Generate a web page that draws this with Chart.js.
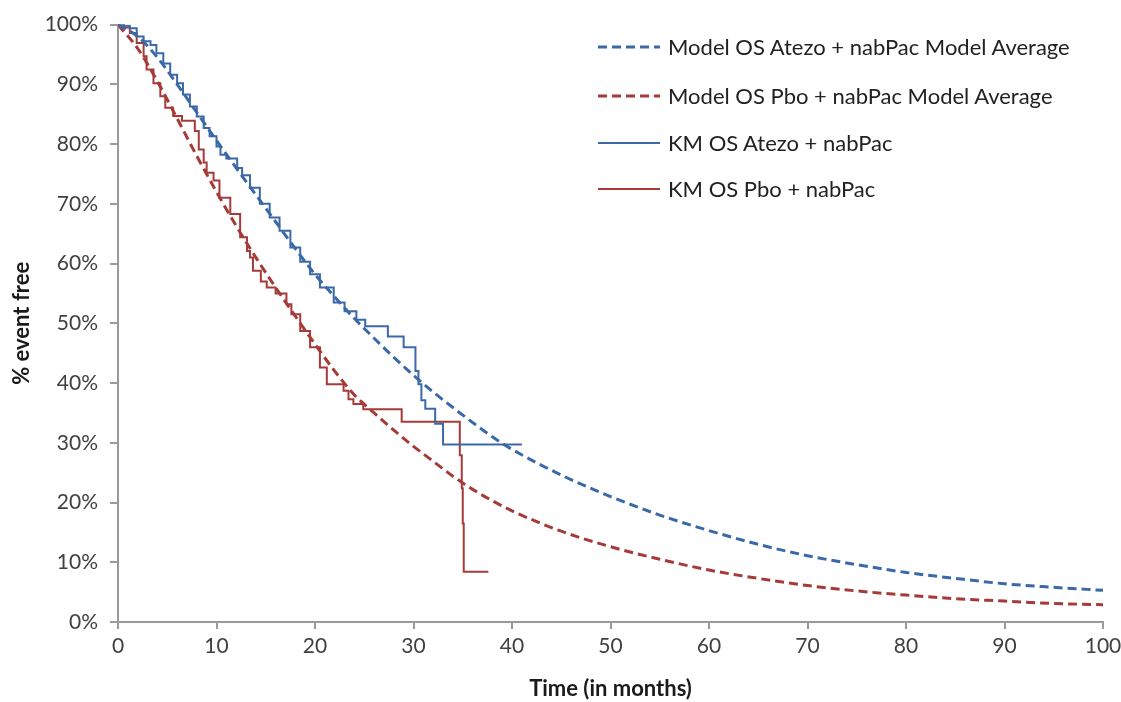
<!DOCTYPE html>
<html>
<head>
<meta charset="utf-8">
<script src="https://cdn.jsdelivr.net/npm/chart.js@4.4.1/dist/chart.umd.min.js"></script>
<style>
    html, body { margin: 0; padding: 0; background: #fff; }
    #wrap { position: relative; width: 1121px; height: 702px; }
    #legend { position: absolute; left: 598px; top: 32px; font-family: Lato, "Liberation Sans", sans-serif; font-size: 22px; color: #222; }
    .item { position: absolute; left: 0; height: 30px; white-space: nowrap; }
    .item svg { position: absolute; left: 0; top: 12px; }
    .item span { position: absolute; left: 70px; top: 1px; }
</style>
</head>
<body>
<div id="wrap">
    <canvas id="km" width="1121" height="702"></canvas>
    <div id="legend"></div>
</div>
<script>
// model curves (months, % event free)
const modelTime = [0, 2, 4, 6, 8, 10, 12, 14, 16, 18, 20, 22, 24, 26, 28, 30, 32, 34, 36, 38, 40, 45, 50, 55, 60, 65, 70, 75, 80, 85, 90, 95, 100];
const modelAtezo = [100, 98, 94.5, 90, 85.3, 80.6, 76, 71.5, 67, 62.5, 58.2, 54.4, 50.8, 47.5, 44.3, 41.3, 38.5, 35.9, 33.4, 31, 28.9, 24.6, 21, 17.9, 15.3, 13, 11.1, 9.6, 8.3, 7.3, 6.4, 5.8, 5.3];
const modelPbo = [100, 96, 90.5, 84.3, 78, 72, 66.3, 61, 56, 51.2, 46.5, 42, 38, 35, 32.1, 29.4, 26.9, 24.4, 22.2, 20.3, 18.6, 15.2, 12.6, 10.5, 8.7, 7.3, 6.1, 5.2, 4.5, 3.9, 3.5, 3.1, 2.9];

// Kaplan-Meier step points
const kmAtezoTime = [0, 0.6, 1.2, 1.9, 2.6, 3.3, 3.9, 4.6, 5.3, 6.0, 6.6, 7.3, 8.0, 8.7, 9.3, 10.0, 10.4, 11.0, 12.1, 12.6, 13.4, 14.4, 15.4, 16.4, 17.5, 18.5, 19.5, 20.5, 21.9, 23.0, 24.2, 25.1, 27.4, 29.0, 30.2, 30.5, 30.8, 31.2, 32.2, 33.0, 41.0];
const kmAtezoPct = [100, 99.8, 99.4, 98, 97.2, 96.6, 95.2, 93.5, 91.6, 90.2, 88.3, 86.3, 84.6, 82.7, 81.3, 79.6, 78.2, 77.6, 76, 74.8, 72.7, 70, 67.7, 65.5, 62.7, 60.3, 58.2, 56, 53.5, 52, 50.6, 49.5, 47.8, 46, 42, 39.8, 37.1, 35.7, 33.2, 29.7, 29.7];
const kmPboTime = [0, 0.6, 1.2, 1.9, 2.6, 2.9, 3.6, 4.3, 4.8, 5.6, 6.5, 7.8, 8.2, 8.7, 9.0, 9.7, 10.3, 11.4, 12.4, 13.1, 13.4, 13.7, 14.5, 15.1, 16.0, 17.1, 17.6, 18.5, 19.5, 20.5, 21.2, 22.9, 23.4, 23.9, 24.9, 28.8, 34.7, 34.9, 35.0, 35.1, 37.6];
const kmPboPct = [100, 99.5, 98.6, 96.9, 94.7, 92.5, 90.2, 88, 86.1, 84.7, 83.9, 82.2, 79.1, 76.9, 75.2, 73.9, 71, 68.3, 64.4, 62.1, 61, 58.8, 57, 56, 55, 53.2, 51.5, 48.7, 46, 42.6, 39.8, 38.7, 37.3, 36.5, 35.6, 33.5, 27.9, 22.4, 16.5, 8.4, 8.4];

const xTicks = [0, 10, 20, 30, 40, 50, 60, 70, 80, 90, 100];

const blue = '#3b69a7';
const red = '#a53b39';
const axisGray = '#9a9a9a';

function pairs(xs, ys) {
    return xs.map((x, i) => ({ x: x, y: ys[i] }));
}

const datasets = [
    { label: 'Model OS Atezo + nabPac Model Average', data: pairs(modelTime, modelAtezo), borderColor: blue, borderWidth: 3, borderDash: [9, 5], cubicInterpolationMode: 'monotone', dashed: true },
    { label: 'Model OS Pbo + nabPac Model Average', data: pairs(modelTime, modelPbo), borderColor: red, borderWidth: 3, borderDash: [9, 5], cubicInterpolationMode: 'monotone', dashed: true },
    { label: 'KM OS Atezo + nabPac', data: pairs(kmAtezoTime, kmAtezoPct), borderColor: blue, borderWidth: 2, stepped: true },
    { label: 'KM OS Pbo + nabPac', data: pairs(kmPboTime, kmPboPct), borderColor: red, borderWidth: 2, stepped: true }
];

const ctx = document.getElementById('km').getContext('2d');
const chart = new Chart(ctx, {
    type: 'line',
    data: { datasets: datasets },
    options: {
        responsive: false,
        animation: false,
        events: [],
        elements: { point: { radius: 0 } },
        layout: { padding: { top: 23, right: 18, bottom: 0, left: 0 } },
        plugins: { legend: { display: false }, tooltip: { enabled: false } },
        scales: {
            x: {
                type: 'linear',
                min: 0,
                max: 100,
                afterBuildTicks: (scale) => { scale.ticks = xTicks.map(v => ({ value: v })); },
                afterFit: (scale) => { scale.height = 80; scale.paddingRight = 0; scale.paddingLeft = 0; },
                grid: { drawOnChartArea: false, drawTicks: true, tickLength: 7, color: axisGray, lineWidth: 2 },
                border: { color: axisGray, width: 2 },
                ticks: { color: '#404040', font: { family: 'Lato', size: 21 }, padding: 5, maxRotation: 0 },
                title: { display: true, text: 'Time (in months)', color: '#1a1a1a', font: { family: 'Lato', size: 22, weight: 'bold' }, padding: { top: 0, bottom: 0 } }
            },
            y: {
                min: 0,
                max: 100,
                afterFit: (scale) => { scale.width = 118; },
                grid: { drawOnChartArea: false, drawTicks: true, tickLength: 8, color: axisGray, lineWidth: 2 },
                border: { color: axisGray, width: 2 },
                ticks: { stepSize: 10, color: '#404040', font: { family: 'Lato', size: 21 }, padding: 12, callback: v => v + '%' },
                title: { display: true, text: '% event free', color: '#1a1a1a', font: { family: 'Lato', size: 22, weight: 'bold' }, padding: { top: 9, bottom: 0 } }
            }
        }
    }
});

// legend as html next to the chart
const legend = document.getElementById('legend');
chart.data.datasets.forEach((ds, i) => {
    const item = document.createElement('div');
    item.className = 'item';
    item.style.top = [0, 49, 96, 142][i] + 'px';
    const dash = ds.dashed ? 'stroke-dasharray="9 5"' : '';
    const w = ds.dashed ? 3 : 2;
    item.innerHTML = `<svg width="64" height="6"><line x1="0" y1="3" x2="62" y2="3" stroke="${ds.borderColor}" stroke-width="${w}" ${dash}/></svg><span>${ds.label}</span>`;
    legend.appendChild(item);
});
</script>
</body>
</html>
